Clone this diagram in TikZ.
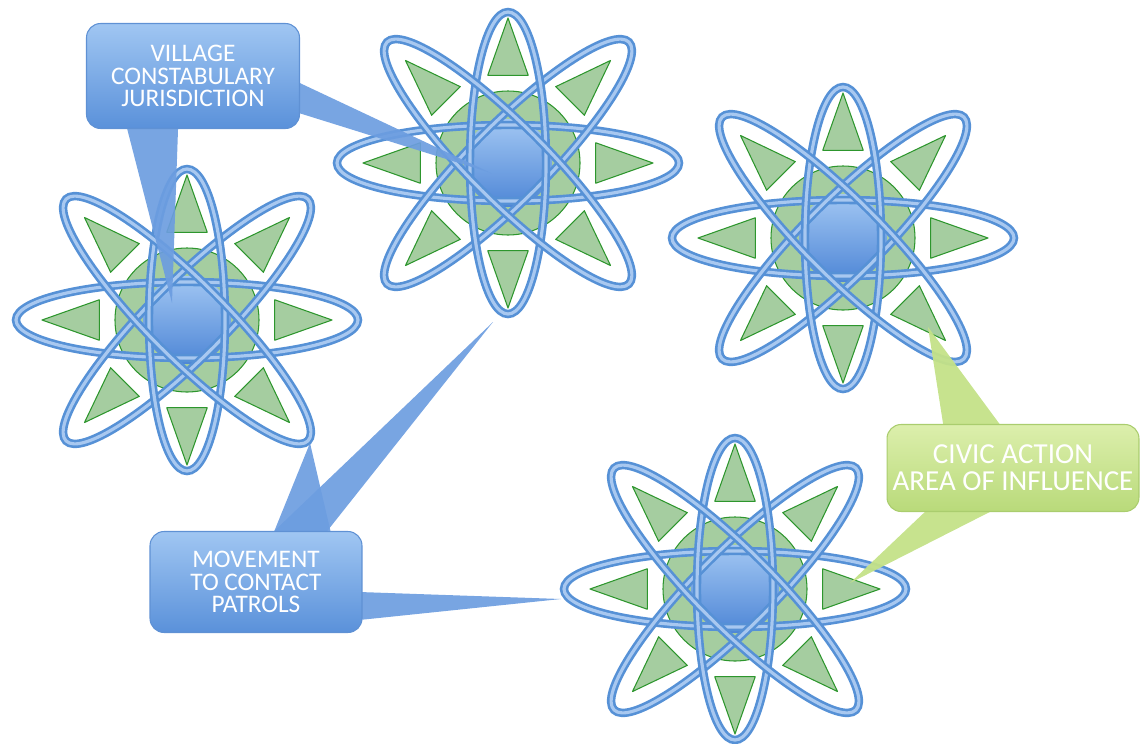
\documentclass[tikz,border=0pt]{standalone}
\usepackage{fontspec}
\newfontfamily\calibrifont{Carlito}
\usetikzlibrary{calc}

\definecolor{orbitblue}{RGB}{86,145,214}
\definecolor{orbitlight}{RGB}{168,200,240}
\definecolor{coretop}{RGB}{162,199,243}
\definecolor{corebottom}{RGB}{78,134,214}
\definecolor{leafgreen}{RGB}{165,205,160}
\definecolor{leafedge}{RGB}{45,150,45}
\definecolor{boxtop}{RGB}{160,198,242}
\definecolor{boxbottom}{RGB}{90,145,218}
\definecolor{boxedge}{RGB}{95,145,212}
\definecolor{pointerblue}{RGB}{108,157,224}
\definecolor{limetop}{RGB}{220,239,172}
\definecolor{limebottom}{RGB}{185,218,122}
\definecolor{limeedge}{RGB}{170,205,110}
\definecolor{limefill}{RGB}{196,226,136}

\pgfdeclarelayer{pointers}
\pgfdeclarelayer{boxes}
\pgfsetlayers{main,pointers,boxes}

\begin{document}
\begin{tikzpicture}[x=0.02cm,y=-0.02cm,
    orbit/.style={draw=orbitblue,double=orbitlight,line width=1.5pt,double distance=1.8pt},
    leaf/.style={fill=leafgreen,draw=leafedge,line width=0.6pt,line join=round},
    callout/.style={draw=boxedge,line width=0.6pt,rounded corners=8pt,top color=boxtop,bottom color=boxbottom,
      text=white,align=center,inner sep=0pt,font=\calibrifont\fontsize{14.4}{13}\selectfont},
    civic/.style={callout,draw=limeedge,top color=limetop,bottom color=limebottom,
      font=\calibrifont\fontsize{16.5}{15.5}\selectfont},
    pointer/.style={fill=pointerblue,fill opacity=0.92},
    limepointer/.style={fill=limefill,fill opacity=0.95},
    atom/.pic={
      \draw[leaf] (0,0) circle [radius=72];
      \foreach \a in {0,45,...,315}
        \draw[leaf] (\a:145) -- (\a+13:90) -- (\a-13:90) -- cycle;
      \shade[top color=coretop,bottom color=corebottom] (0,0) circle [radius=44];
      \foreach \a/\r in {0/171,45/171,90/151,135/171}
        \draw[orbit,rotate=\a] (0,0) ellipse [x radius=\r,y radius=38];
    }]
  \useasboundingbox (0,0) rectangle (1140,744);

  \pic at (187,320) {atom};
  \pic at (508,163) {atom};
  \pic at (843,238) {atom};
  \pic at (735,589) {atom};

  \coordinate (jurA) at (172,303);
  \coordinate (jurB) at (491,173);
  \coordinate (patA) at (310,443);
  \coordinate (patB) at (493,322);
  \coordinate (patC) at (561,599);
  \coordinate (civA) at (928,327);
  \coordinate (civB) at (850,583);

  \begin{pgfonlayer}{boxes}
    \node[callout,minimum width=4.26cm,minimum height=2.1cm] (vil) at (193,76) {VILLAGE\\CONSTABULARY\\JURISDICTION};
    \node[callout,minimum width=4.24cm,minimum height=2.02cm] (mov) at (256,582) {MOVEMENT\\TO CONTACT\\PATROLS};
    \node[civic,minimum width=5.04cm,minimum height=1.74cm] (civ) at (1013,468) {CIVIC ACTION\\AREA OF INFLUENCE};
  \end{pgfonlayer}

  \begin{pgfonlayer}{pointers}
    \fill[pointer] ($(vil.south)+(-73,-28)$) -- (jurA) -- ($(vil.south)+(-14,-28)$) -- cycle;
    \fill[pointer] ($(vil.east)+(-30,-7)$) -- (jurB) -- ($(vil.east)+(-30,28)$) -- cycle;
    \fill[pointer] ($(mov.north)+(7,28)$) -- (patA) -- ($(mov.north)+(81,28)$) -- cycle;
    \fill[pointer] ($(mov.north)+(-11,28)$) -- (patB) -- ($(mov.north)+(49,28)$) -- cycle;
    \fill[pointer] ($(mov.east)+(-32,9)$) -- (patC) -- ($(mov.east)+(-32,41)$) -- cycle;
    \fill[limepointer] ($(civ.north)+(-66,25)$) -- (civA) -- ($(civ.north)+(5,25)$) -- cycle;
    \fill[limepointer] ($(civ.south)+(-65,-22)$) -- (civB) -- ($(civ.south)+(20,-22)$) -- cycle;
  \end{pgfonlayer}
\end{tikzpicture}
\end{document}
